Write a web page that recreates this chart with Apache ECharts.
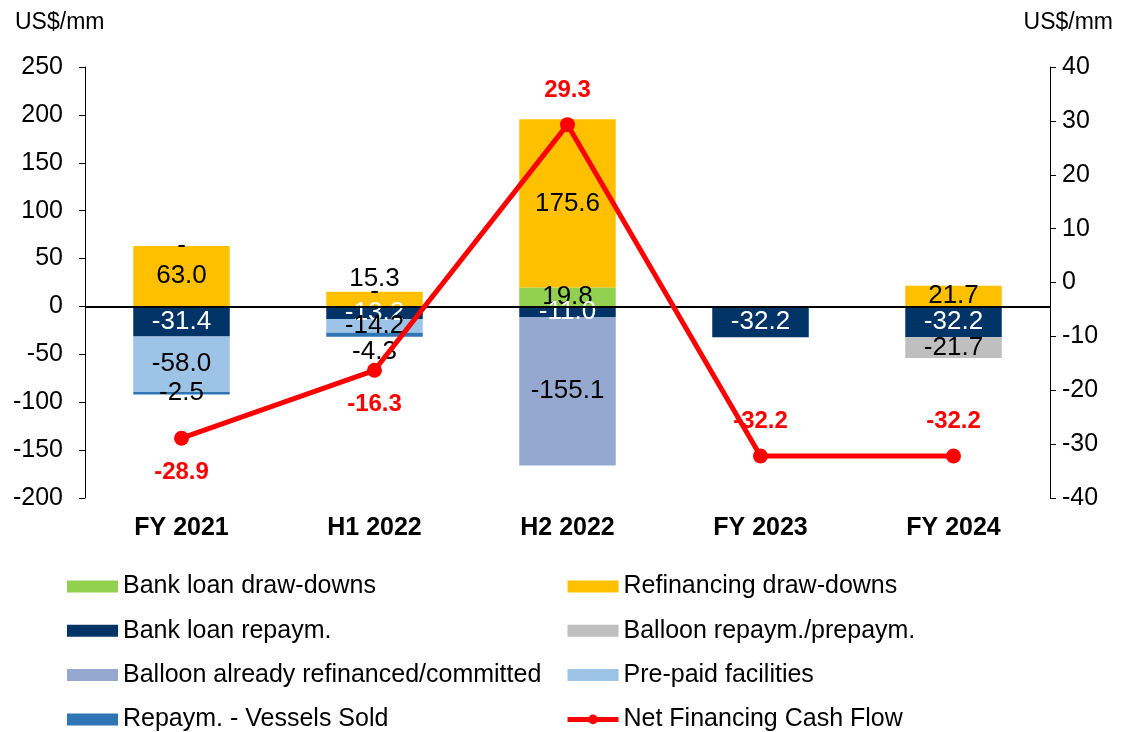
<!DOCTYPE html>
<html>
<head>
<meta charset="utf-8">
<script src="https://cdn.jsdelivr.net/npm/echarts@6/dist/echarts.min.js"></script>
<style>
  html, body { margin: 0; padding: 0; background: #fff; }
  #main { width: 1122px; height: 732px; }
</style>
</head>
<body>
<div id="main"></div>
<script>
// categories and values (US$ mm)
const periods = ['FY 2021', 'H1 2022', 'H2 2022', 'FY 2023', 'FY 2024'];
const bankDraw = [0, 0, 19.8, 0, 0];
const bankRepay = [-31.4, -13.2, -11.0, -32.2, -32.2];
const prePaid = [-58.0, -14.2, null, null, null];
const vesselsSold = [-2.5, -4.3, null, null, null];
const refiDraw = [63.0, 15.3, 175.6, null, 21.7];
const balloonRepay = [0, 0, 0, null, -21.7];
const balloonRefi = [null, null, -155.1, null, null];
const netFlow = [-28.9, -16.3, 29.3, -32.2, -32.2];

const FONT = "'Liberation Sans', Arial, sans-serif";

const fmt = p => (p.value === 0 ? '-' : p.value.toFixed(1));

function barSeries(name, data, color, labelColor) {
  return {
    name: name,
    type: 'bar',
    stack: 'fin',
    barWidth: '50%',
    data: data,
    itemStyle: { color: color },
    label: {
      show: true,
      position: 'inside',
      formatter: fmt,
      color: labelColor || '#000',
      fontFamily: FONT,
      fontSize: 26
    }
  };
}

let chart = echarts.init(document.getElementById('main'));

const green = barSeries('Bank loan draw-downs', bankDraw, '#92D050');
green.markLine = {
  silent: true,
  symbol: ['none', 'none'],
  label: { show: false },
  lineStyle: { color: '#000', width: 2, type: 'solid' },
  data: [{ yAxis: 0 }]
};

// small segments get their label outside, as in the source chart
const yellow = barSeries('Refinancing draw-downs',
  refiDraw.map(v => (v !== null && v < 20 ? { value: v, label: { position: 'top', distance: 0 } } : v)),
  '#FFC000');
const vessels = barSeries('Repaym. - Vessels Sold',
  vesselsSold.map(v => (v !== null && v < -4 ? { value: v, label: { position: 'bottom', distance: 2 } } : v)),
  '#2E75B6');

const legendText = { fontFamily: FONT, fontSize: 25, color: '#000' };
const rectItem = name => ({ name: name, icon: 'rect' });

let option = {
  animation: false,
  textStyle: { fontFamily: FONT },
  title: [
    { text: 'US$/mm', left: 10, top: 6, textStyle: { fontFamily: FONT, fontSize: 23, fontWeight: 'normal', color: '#000' } },
    { text: 'US$/mm', right: 4, top: 6, textStyle: { fontFamily: FONT, fontSize: 23, fontWeight: 'normal', color: '#000' } }
  ],
  grid: { left: 85, right: 72, top: 67, bottom: 234 },
  legend: [
    {
      orient: 'vertical', left: 67, top: 574, height: 158, padding: 0,
      itemWidth: 51, itemHeight: 12, itemGap: 19.3,
      textStyle: legendText,
      data: ['Bank loan draw-downs', 'Bank loan repaym.', 'Balloon already refinanced/committed', 'Repaym. - Vessels Sold'].map(rectItem)
    },
    {
      orient: 'vertical', left: 565, top: 574, height: 158, padding: 0,
      itemWidth: 51, itemHeight: 12, itemGap: 19.3,
      textStyle: legendText,
      data: ['Refinancing draw-downs', 'Balloon repaym./prepaym.', 'Pre-paid facilities'].map(rectItem)
        .concat([{ name: 'Net Financing Cash Flow', lineStyle: { width: 5 } }])
    }
  ],
  xAxis: {
    type: 'category',
    data: periods,
    axisLine: { show: false, onZero: false },
    axisTick: { show: false },
    axisLabel: { margin: 18, color: '#000', fontFamily: FONT, fontSize: 25, fontWeight: 'bold' }
  },
  yAxis: [
    {
      type: 'value', min: -200, max: 250, interval: 50,
      axisLine: { show: true, lineStyle: { color: '#000', width: 1 } },
      axisTick: { show: true, length: 6, lineStyle: { color: '#000' } },
      splitLine: { show: false },
      axisLabel: { margin: 22, color: '#000', fontFamily: FONT, fontSize: 25 }
    },
    {
      type: 'value', min: -40, max: 40, interval: 10,
      axisLine: { show: true, lineStyle: { color: '#000', width: 1 } },
      axisTick: { show: true, length: 6, lineStyle: { color: '#000' } },
      splitLine: { show: false },
      axisLabel: { margin: 12, color: '#000', fontFamily: FONT, fontSize: 25 }
    }
  ],
  series: [
    green,
    barSeries('Bank loan repaym.', bankRepay, '#003366', '#fff'),
    barSeries('Pre-paid facilities', prePaid, '#9DC3E6'),
    vessels,
    yellow,
    barSeries('Balloon repaym./prepaym.', balloonRepay, '#BFBFBF'),
    barSeries('Balloon already refinanced/committed', balloonRefi, '#95A9D0'),
    {
      name: 'Net Financing Cash Flow',
      type: 'line',
      yAxisIndex: 1,
      z: 5,
      data: netFlow.map((v, i) => ({ value: v, label: { position: i < 2 ? 'bottom' : 'top' } })),
      symbol: 'circle',
      symbolSize: 15,
      lineStyle: { color: '#FF0000', width: 5 },
      itemStyle: { color: '#FF0000' },
      label: {
        show: true,
        distance: 15,
        formatter: p => p.value.toFixed(1),
        color: '#FF0000',
        fontFamily: FONT,
        fontSize: 24,
        fontWeight: 'bold'
      }
    }
  ]
};

chart.setOption(option);
</script>
</body>
</html>
